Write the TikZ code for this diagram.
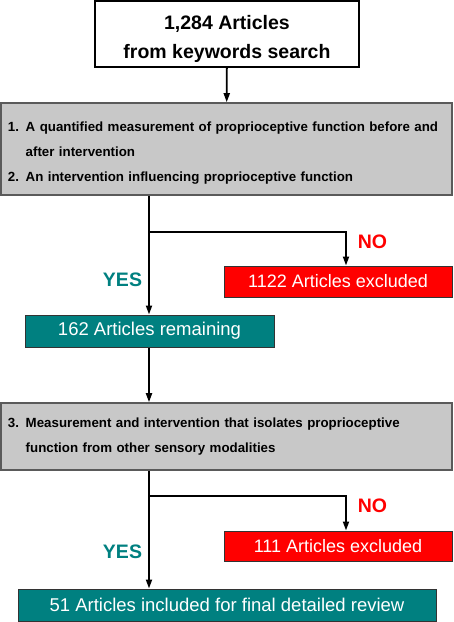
\documentclass[tikz,border=0pt]{standalone}
\usepackage{fontspec}
\setmainfont{Liberation Sans}
\usetikzlibrary{arrows.meta, positioning}
\definecolor{keepteal}{RGB}{0,128,128}
\definecolor{critgray}{RGB}{200,200,200}
\definecolor{critedge}{RGB}{90,90,90}
\begin{document}
\begin{tikzpicture}[
  x=1pt, y=-1pt,
  >={Triangle[length=9pt, width=6pt]},
  flow/.style={->, line width=1.8pt},
  startbox/.style={draw, line width=2.2pt, fill=white, minimum width=264pt, minimum height=66pt,
    align=center, font=\bfseries\fontsize{19.5}{29}\selectfont},
  critbox/.style={draw=critedge, line width=1.6pt, fill=critgray, minimum width=451pt,
    text width=437pt, inner xsep=7pt, align=left, font=\bfseries\fontsize{13.3}{25}\selectfont},
  exclbox/.style={draw=black!80, line width=1pt, fill=red, text=white, minimum width=228pt,
    minimum height=31pt, inner sep=0pt, font=\fontsize{18}{22}\selectfont},
  keepbox/.style={draw=black!80, line width=1pt, fill=keepteal, text=white,
    minimum height=32pt, inner sep=0pt, font=\fontsize{18.5}{22}\selectfont},
  yeslabel/.style={text=keepteal, font=\bfseries\fontsize{19.5}{22}\selectfont},
  nolabel/.style={text=red, font=\bfseries\fontsize{19.5}{22}\selectfont}
]
\useasboundingbox (0,0) rectangle (454,622);

% Nodes for the search and the screening steps
\node[startbox] (search) at (227,34) {\rule{0pt}{25pt}1,284 Articles\\from keywords search};
\node[critbox, minimum height=92pt] (crit1) at (226.5,149)
  {\rule{0pt}{18.5pt}1. A quantified measurement of proprioceptive function before and\\
   \hphantom{1. }after intervention\\
   2. An intervention influencing proprioceptive function};
\node[exclbox] (excl1) at (338,281.5) {1122 Articles excluded};
\node[keepbox, minimum width=249pt] (keep1) at (149.5,331) {162 Articles remaining};
\node[critbox, minimum height=67pt] (crit2) at (226.5,436.5)
  {3. Measurement and intervention that isolates proprioceptive\\
   \hphantom{3. }function from other sensory modalities};
\node[exclbox, minimum height=30pt] (excl2) at (338,546) {111 Articles excluded};
\node[keepbox, minimum width=418pt] (keep2) at (227,605) {51 Articles included for final detailed review};

% Branch points
\coordinate (split1) at (149,232);
\coordinate (split2) at (149,496);

% Arrows
\draw[flow] (search) -- (crit1);
\draw[flow] (split1 |- crit1.south) -- (split1 |- keep1.north);
\draw[flow] (split1) -| ([xshift=8pt]excl1.north);
\draw[flow] (split1 |- keep1.south) -- (split1 |- crit2.north);
\draw[flow] (split2 |- crit2.south) -- (split2 |- keep2.north);
\draw[flow] (split2) -| ([xshift=8pt]excl2.north);

% YES / NO labels
\node[nolabel] (no1) at (372.5,242) {NO};
\node[yeslabel] (yes1) at (122.5,280) {YES};
\node[nolabel] (no2) at (372.5,506) {NO};
\node[yeslabel] (yes2) at (122.5,552) {YES};

\end{tikzpicture}
\end{document}
